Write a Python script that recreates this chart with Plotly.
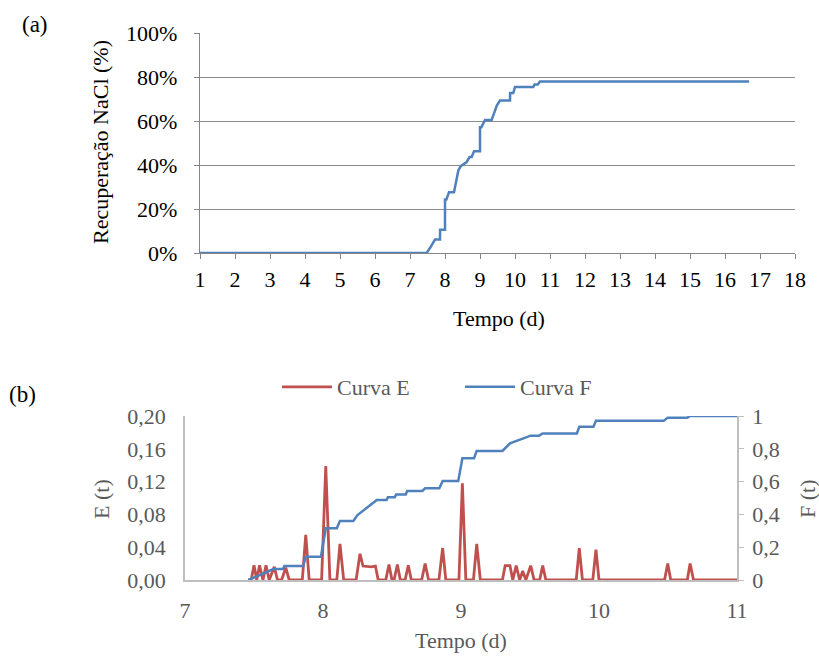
import plotly.graph_objects as go

# (a) NaCl recovery over time
rec_t = [1, 7.476, 7.60, 7.714, 7.857, 7.86, 8.0, 8.0, 8.04, 8.114, 8.257, 8.381, 8.45, 8.619, 8.70, 8.762, 8.83, 8.886, 9.0, 9.0,
         9.04, 9.143, 9.333, 9.40, 9.48, 9.571, 9.857, 9.86, 9.95, 10.0, 10.524, 10.56, 10.65, 10.714, 16.69]
rec_v = [0, 0, 3.0, 6.1, 6.1, 10.6, 10.6, 24.3, 24.3, 27.6, 27.6, 37.5, 39.5, 41.3, 43.6, 43.6, 46.2, 46.2, 46.2, 57.2,
         57.2, 60.5, 60.5, 63.5, 67.0, 69.3, 69.3, 72.7, 72.7, 75.4, 75.4, 76.6, 76.6, 78.0, 78.0]

# (b) residence time distribution E(t) and cumulative F(t)
e_t = [7.459, 7.48, 7.50, 7.52, 7.54, 7.565, 7.587, 7.61, 7.647, 7.67, 7.70, 7.73, 7.755, 7.85, 7.875, 7.90,
       7.99, 8.02, 8.05, 8.10, 8.123, 8.15, 8.24, 8.268, 8.29, 8.35, 8.38, 8.40, 8.455, 8.478, 8.50, 8.515,
       8.539, 8.56, 8.595, 8.618, 8.64, 8.715, 8.74, 8.765, 8.84, 8.867, 8.89, 8.985, 9.01, 9.035, 9.09,
       9.114, 9.14, 9.30, 9.32, 9.355, 9.375, 9.40, 9.425, 9.447, 9.47, 9.505, 9.53, 9.57, 9.592, 9.615,
       9.835, 9.857, 9.88, 9.955, 9.978, 10.0, 10.475, 10.498, 10.52, 10.64, 10.66, 10.685, 11.0]
e_v = [0, 0, 0.018, 0, 0.018, 0, 0.018, 0, 0.016, 0, 0, 0.015, 0, 0, 0.055, 0,
       0, 0.139, 0, 0, 0.044, 0, 0, 0.032, 0.017, 0.016, 0.017, 0, 0, 0.019, 0, 0,
       0.019, 0, 0, 0.018, 0, 0, 0.020, 0, 0, 0.039, 0, 0, 0.118, 0, 0,
       0.044, 0, 0, 0.0175, 0.0175, 0, 0.0175, 0, 0.011, 0, 0.0175, 0, 0, 0.0175, 0,
       0, 0.039, 0, 0, 0.037, 0, 0, 0.020, 0, 0, 0.020, 0, 0]

f_t = [7.459, 7.60, 7.64, 7.71, 7.72, 7.857, 7.875, 7.985, 8.02, 8.10, 8.123, 8.22, 8.25, 8.39, 8.46, 8.47,
       8.52, 8.53, 8.60, 8.61, 8.72, 8.74, 8.843, 8.867, 8.98, 9.01, 9.094, 9.114, 9.30, 9.355, 9.40, 9.447,
       9.505, 9.565, 9.592, 9.84, 9.857, 9.96, 9.978, 10.47, 10.498, 10.64, 10.66, 11.0]
f_v = [0, 0.05, 0.067, 0.067, 0.085, 0.085, 0.142, 0.142, 0.315, 0.315, 0.36, 0.36, 0.396, 0.488, 0.488, 0.504,
       0.504, 0.522, 0.522, 0.543, 0.543, 0.559, 0.559, 0.604, 0.604, 0.742, 0.742, 0.787, 0.787, 0.833, 0.848, 0.86,
       0.88, 0.88, 0.894, 0.894, 0.935, 0.935, 0.971, 0.971, 0.99, 0.99, 1.0, 1.0]

top_xticks = list(range(1, 19))
top_yticks = [0, 20, 40, 60, 80, 100]
top_ylabels = ["0%", "20%", "40%", "60%", "80%", "100%"]
e_ticks = [0, 0.04, 0.08, 0.12, 0.16, 0.20]
e_labels = ["0,00", "0,04", "0,08", "0,12", "0,16", "0,20"]
f_ticks = [0, 0.2, 0.4, 0.6, 0.8, 1.0]
f_labels = ["0", "0,2", "0,4", "0,6", "0,8", "1"]
b_xticks = [7, 8, 9, 10, 11]

BLUE = "#4F81BD"
RED = "#C0504D"
GREY_TXT = "#595959"
FONT = "Liberation Serif"
FS = 22
W, H = 819, 656


def fx(px):
    return px / W


def fy(py):
    return 1 - py / H


fig = go.Figure()
fig.add_trace(go.Scatter(x=rec_t, y=rec_v, mode="lines", line=dict(color=BLUE, width=2.5),
                         xaxis="x", yaxis="y", showlegend=False))
fig.add_trace(go.Scatter(x=e_t, y=e_v, mode="lines", name="Curva E", line=dict(color=RED, width=2.8),
                         xaxis="x2", yaxis="y2"))
fig.add_trace(go.Scatter(x=f_t, y=f_v, mode="lines", name="Curva F", line=dict(color=BLUE, width=2.5),
                         xaxis="x2", yaxis="y3"))

black_font = dict(family=FONT, size=FS, color="black")
grey_font = dict(family=FONT, size=FS, color=GREY_TXT)

fig.update_layout(
    template="none",
    width=W, height=H, margin=dict(l=0, r=0, t=0, b=0, autoexpand=False),
    paper_bgcolor="white", plot_bgcolor="white",
    font=black_font,
    xaxis=dict(domain=[fx(200), fx(795)], range=[1, 18], tickvals=top_xticks, showgrid=False,
               showline=True, linecolor="#868686", linewidth=1.3, ticks="outside", ticklen=5,
               tickcolor="#868686", anchor="y", zeroline=False, automargin=False,
               ticklabelstandoff=1, tickfont=black_font),
    yaxis=dict(domain=[fy(253), fy(33)], range=[0, 100], tickvals=top_yticks, ticktext=top_ylabels,
               showgrid=True, gridcolor="#8c8c8c", gridwidth=1.3, showline=True, linecolor="#868686",
               linewidth=1.3, ticks="outside", ticklen=5, tickcolor="#868686", anchor="x", zeroline=False,
               automargin=False, ticklabelstandoff=12, tickfont=black_font),
    xaxis2=dict(domain=[fx(185), fx(737)], range=[7, 11], tickvals=b_xticks, showgrid=False,
                showline=True, linecolor="#BFBFBF", linewidth=1.5, ticks="", anchor="y2", zeroline=False,
                automargin=False, ticklabelstandoff=10, tickfont=grey_font),
    yaxis2=dict(domain=[fy(580), fy(416)], range=[0, 0.2], tickvals=e_ticks, ticktext=e_labels,
                showgrid=False, showline=True, linecolor="#BFBFBF", linewidth=1.5, ticks="",
                anchor="x2", zeroline=False, automargin=False, ticklabelstandoff=13,
                tickfont=grey_font),
    yaxis3=dict(domain=[fy(580), fy(416)], range=[0, 1], tickvals=f_ticks, ticktext=f_labels,
                overlaying="y2", side="right", anchor="x2", showgrid=False, showline=True,
                linecolor="#BFBFBF", linewidth=1.5, ticks="outside", ticklen=5, tickcolor="#BFBFBF",
                zeroline=False, automargin=False, ticklabelstandoff=4, tickfont=grey_font),
    legend=dict(orientation="h", x=fx(277), y=fy(387), xanchor="left", yanchor="middle",
                font=grey_font, bgcolor="rgba(0,0,0,0)", itemwidth=50, tracegroupgap=0,
                entrywidth=118),
)

annotations = [
    dict(text="(a)", x=fx(20), y=fy(25), xanchor="left", font=dict(black_font, size=23)),
    dict(text="(b)", x=fx(7), y=fy(394), xanchor="left", font=dict(black_font, size=23)),
    dict(text="Recuperação NaCl (%)", x=fx(101), y=fy(142), textangle=-90, font=black_font),
    dict(text="Tempo (d)", x=fx(499), y=fy(318), font=black_font),
    dict(text="E (t)", x=fx(102), y=fy(499), textangle=-90, font=grey_font),
    dict(text="F (t)", x=fx(808), y=fy(499), textangle=-90, font=grey_font),
    dict(text="Tempo (d)", x=fx(461), y=fy(640), font=grey_font),
]
for a in annotations:
    a.setdefault("xanchor", "center")
    a.update(xref="paper", yref="paper", yanchor="middle", showarrow=False)
fig.update_layout(annotations=annotations)

fig.write_html("out.html")
